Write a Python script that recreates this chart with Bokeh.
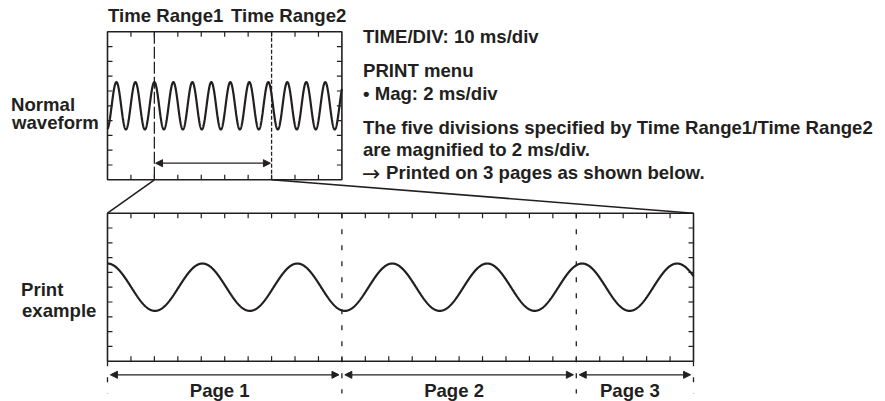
import numpy as np
from bokeh.plotting import figure
from bokeh.models import Range1d, Label, Arrow, NormalHead
from bokeh.embed import file_html
from bokeh.resources import INLINE

# ---------------- values ----------------
time_div_ms = 10            # TIME/DIV of the normal waveform
mag_div_ms = 2              # PRINT magnification
screen_divs_x = 10
screen_divs_y = 10
range1_ms = 20              # Time Range1
range2_ms = 70              # Time Range2
page_divs = 10              # divisions printed per page
page_labels = ["Page 1", "Page 2", "Page 3"]
wave_period_ms = 8.1        # period of the displayed signal
wave_amp_div = 1.6          # amplitude in divisions
wave_peak_ms = 20           # a crest sits at Time Range1

top_labels = ["Time Range1", "Time Range2"]
info_lines = [
    "TIME/DIV: 10 ms/div",
    "PRINT menu",
    "\u2022 Mag: 2 ms/div",
    "The five divisions specified by Time Range1/Time Range2",
    "are magnified to 2 ms/div.",
    "Printed on 3 pages as shown below.",
]
result_arrow = "\u2192"
normal_label = ["Normal", "waveform"]
print_label = ["Print", "example"]

# ---------------- layout (page pixels) ----------------
W, H = 885, 401
PXX, PXY = 23.44, 14.8          # px per division
OX, OY = 107.0, 360.7           # page px of lower box bottom-left
INK = "#231f20"
FONT = "Liberation Sans"
FS = "18.6px"
TXT_SHIFT = 6.5                 # renderer draws alphabetic text this much lower
TXT_DX = 2.5                    # and this much further right


def X(px):
    return (px - OX) / PXX


def Y(py):
    return (OY - py) / PXY


xs, xe = X(0), X(W)
ys, ye = Y(H), Y(0)
upper_bottom = Y(179.3)
uc = upper_bottom + screen_divs_y / 2
lc = screen_divs_y / 2

p = figure(width=W, height=H, x_range=Range1d(xs, xe), y_range=Range1d(ys, ye),
           output_backend="svg", toolbar_location=None, min_border=0,
           x_axis_location=None, y_axis_location=None)
p.grid.visible = False
p.outline_line_color = None
p.background_fill_color = "white"
p.border_fill_color = "white"

p.extra_x_ranges = {
    "ut": Range1d(xs * time_div_ms, xe * time_div_ms),
    "lt": Range1d(xs * mag_div_ms, xe * mag_div_ms),
}
p.extra_y_ranges = {
    "uv": Range1d(ys - uc, ye - uc),
    "lv": Range1d(ys - lc, ye - lc),
}

span_ms = range2_ms - range1_ms
upper_total = screen_divs_x * time_div_ms
half = screen_divs_y / 2

U = dict(x_range_name="ut", y_range_name="uv")
L = dict(x_range_name="lt", y_range_name="lv")

# ---- boxes ----
p.quad(left=0, right=upper_total, bottom=-half, top=half, fill_color=None,
       line_color=INK, line_width=1.6, **U)
p.quad(left=0, right=span_ms, bottom=-half, top=half, fill_color=None,
       line_color=INK, line_width=1.6, **L)


def ticks(total_x, step_x, rn):
    kx = np.arange(step_x, total_x - 1e-9, step_x)
    kv = np.arange(-half + 1, half - 1e-9, 1.0)
    kw = dict(length=5, length_units="screen", line_color=INK, line_width=1.2, **rn)
    p.ray(x=kx, y=np.full(len(kx), -half), angle=np.pi / 2, **kw)
    p.ray(x=kx, y=np.full(len(kx), half), angle=-np.pi / 2, **kw)
    p.ray(x=np.zeros(len(kv)), y=kv, angle=0, **kw)
    p.ray(x=np.full(len(kv), total_x), y=kv, angle=np.pi, **kw)


ticks(upper_total, time_div_ms, U)
ticks(span_ms, mag_div_ms, L)

# ---- waveforms ----
tu = np.linspace(0, upper_total, 2000)
p.line(tu, wave_amp_div * np.cos(2 * np.pi * (tu - wave_peak_ms) / wave_period_ms),
       line_color=INK, line_width=2.2, **U)
tl = np.linspace(0, span_ms, 2000)
p.line(tl, wave_amp_div * np.cos(2 * np.pi * (tl + range1_ms - wave_peak_ms) / wave_period_ms),
       line_color=INK, line_width=2.2, **L)

# ---- time range markers ----
p.segment(x0=[range1_ms], y0=[half], x1=[range1_ms], y1=[-half], line_color=INK,
          line_width=1.3, line_dash="12 3", **U)
p.segment(x0=[range2_ms], y0=[half], x1=[range2_ms], y1=[-half], line_color=INK,
          line_width=1.3, line_dash="4 2", **U)
ua_y = Y(162.7) - uc
p.add_layout(Arrow(start=NormalHead(size=7, fill_color=INK, line_color=INK),
                   end=NormalHead(size=7, fill_color=INK, line_color=INK),
                   x_start=range1_ms + 0.5, x_end=range2_ms - 0.5, y_start=ua_y, y_end=ua_y,
                   line_color=INK, line_width=1.3, **U))

# ---- zoom connectors (main division coordinates) ----
p.segment(x0=[range1_ms / time_div_ms, range2_ms / time_div_ms],
          y0=[upper_bottom, upper_bottom],
          x1=[0, span_ms / mag_div_ms], y1=[screen_divs_y, screen_divs_y],
          line_color=INK, line_width=1.6)

# ---- pages ----
page_ms = page_divs * mag_div_ms
bounds = list(np.arange(0, span_ms, page_ms)) + [span_ms]
stub = Y(393) - lc
inner = bounds[1:-1]
edges = [bounds[0], bounds[-1]]
p.segment(x0=inner, y0=[half] * len(inner), x1=inner, y1=[stub] * len(inner),
          line_color=INK, line_width=1.3, line_dash="5 11", **L)
p.segment(x0=edges, y0=[-half] * 2, x1=edges, y1=[stub] * 2,
          line_color=INK, line_width=1.3, line_dash="5 11", **L)
pa_y = Y(374.3) - lc
for i, lab in enumerate(page_labels):
    a, b = bounds[i], bounds[i + 1]
    p.add_layout(Arrow(start=NormalHead(size=7, fill_color=INK, line_color=INK),
                       end=NormalHead(size=7, fill_color=INK, line_color=INK),
                       x_start=a + 0.25, x_end=b - 0.25, y_start=pa_y, y_end=pa_y,
                       line_color=INK, line_width=1.3, **L))
    p.add_layout(Label(x=(a + b) / 2, y=Y(396 - TXT_SHIFT) - lc, text=lab, text_align="center",
                       x_offset=-5, text_baseline="alphabetic", text_font=FONT,
                       text_font_style="bold", text_font_size=FS, text_color=INK, **L))


def label(txt, px, py, font=FONT, style="bold", size=FS):
    p.add_layout(Label(x=X(px - TXT_DX), y=Y(py - TXT_SHIFT), text=txt, text_align="left",
                       text_baseline="alphabetic", text_font=font,
                       text_font_style=style, text_font_size=size, text_color=INK))


label(top_labels[0], 110, 21.7)
label(top_labels[1], 233, 21.7)
for txt, by in zip(info_lines[:-1], [42.7, 76, 99, 133.3, 155.7]):
    label(txt, 365, by)
label(result_arrow, 364, 179.5, font="DejaVu Sans", style="normal", size="22px")
label(info_lines[-1], 388, 178.3)
label(normal_label[0], 13, 110)
label(normal_label[1], 14, 128.3)
label(print_label[0], 23, 295.7)
label(print_label[1], 24, 316.7)

open("out.html", "w").write(file_html(p, INLINE))
